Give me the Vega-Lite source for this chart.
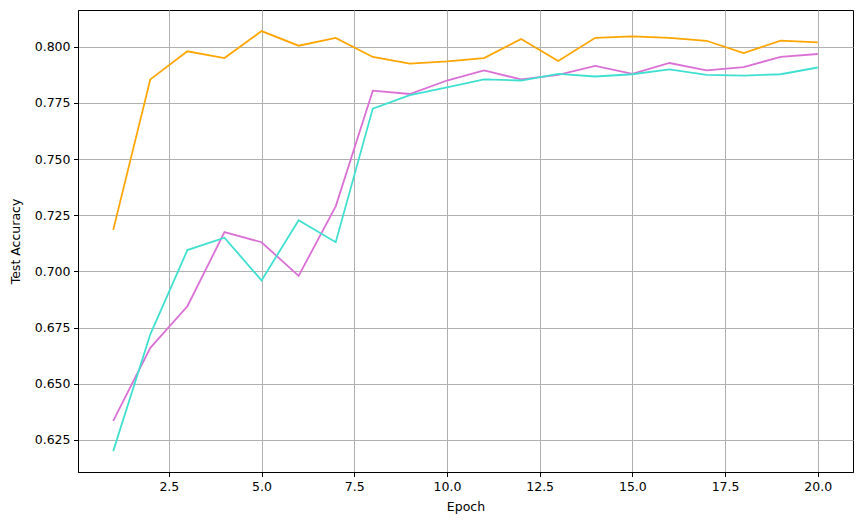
{
  "$schema": "https://vega.github.io/schema/vega-lite/v6.json",
  "autosize": "none",
  "width": 775,
  "height": 462,
  "padding": {"left": 78, "top": 10, "right": 10, "bottom": 53},
  "background": "white",
  "config": {
    "view": {"stroke": "black", "strokeWidth": 1},
    "axis": {
      "labelFont": "DejaVu Sans",
      "titleFont": "DejaVu Sans",
      "labelFontSize": 12.5,
      "titleFontSize": 12.5,
      "titleFontWeight": "normal",
      "labelColor": "black",
      "titleColor": "black",
      "domainColor": "black",
      "tickColor": "black",
      "tickSize": 4.5,
      "labelPadding": 3.5,
      "gridColor": "#b0b0b0",
      "gridWidth": 1,
      "gridOpacity": 1,
      "labelFlush": false,
      "labelOverlap": false
    }
  },
  "data": {
    "values": [
      {"epoch": 1, "series": "s1", "acc": 0.7185},
      {"epoch": 2, "series": "s1", "acc": 0.7855},
      {"epoch": 3, "series": "s1", "acc": 0.798},
      {"epoch": 4, "series": "s1", "acc": 0.795},
      {"epoch": 5, "series": "s1", "acc": 0.807},
      {"epoch": 6, "series": "s1", "acc": 0.8005},
      {"epoch": 7, "series": "s1", "acc": 0.804},
      {"epoch": 8, "series": "s1", "acc": 0.7955},
      {"epoch": 9, "series": "s1", "acc": 0.7925},
      {"epoch": 10, "series": "s1", "acc": 0.7935},
      {"epoch": 11, "series": "s1", "acc": 0.795},
      {"epoch": 12, "series": "s1", "acc": 0.8035},
      {"epoch": 13, "series": "s1", "acc": 0.7937},
      {"epoch": 14, "series": "s1", "acc": 0.804},
      {"epoch": 15, "series": "s1", "acc": 0.8047},
      {"epoch": 16, "series": "s1", "acc": 0.804},
      {"epoch": 17, "series": "s1", "acc": 0.8027},
      {"epoch": 18, "series": "s1", "acc": 0.7972},
      {"epoch": 19, "series": "s1", "acc": 0.8028},
      {"epoch": 20, "series": "s1", "acc": 0.802},
      {"epoch": 1, "series": "s2", "acc": 0.6335},
      {"epoch": 2, "series": "s2", "acc": 0.666},
      {"epoch": 3, "series": "s2", "acc": 0.6845},
      {"epoch": 4, "series": "s2", "acc": 0.7175},
      {"epoch": 5, "series": "s2", "acc": 0.713},
      {"epoch": 6, "series": "s2", "acc": 0.698},
      {"epoch": 7, "series": "s2", "acc": 0.729},
      {"epoch": 8, "series": "s2", "acc": 0.7805},
      {"epoch": 9, "series": "s2", "acc": 0.779},
      {"epoch": 10, "series": "s2", "acc": 0.785},
      {"epoch": 11, "series": "s2", "acc": 0.7895},
      {"epoch": 12, "series": "s2", "acc": 0.7855},
      {"epoch": 13, "series": "s2", "acc": 0.7875},
      {"epoch": 14, "series": "s2", "acc": 0.7915},
      {"epoch": 15, "series": "s2", "acc": 0.788},
      {"epoch": 16, "series": "s2", "acc": 0.7928},
      {"epoch": 17, "series": "s2", "acc": 0.7895},
      {"epoch": 18, "series": "s2", "acc": 0.791},
      {"epoch": 19, "series": "s2", "acc": 0.7955},
      {"epoch": 20, "series": "s2", "acc": 0.7968},
      {"epoch": 1, "series": "s3", "acc": 0.620},
      {"epoch": 2, "series": "s3", "acc": 0.672},
      {"epoch": 3, "series": "s3", "acc": 0.7095},
      {"epoch": 4, "series": "s3", "acc": 0.715},
      {"epoch": 5, "series": "s3", "acc": 0.696},
      {"epoch": 6, "series": "s3", "acc": 0.7228},
      {"epoch": 7, "series": "s3", "acc": 0.713},
      {"epoch": 8, "series": "s3", "acc": 0.7725},
      {"epoch": 9, "series": "s3", "acc": 0.7785},
      {"epoch": 10, "series": "s3", "acc": 0.782},
      {"epoch": 11, "series": "s3", "acc": 0.7855},
      {"epoch": 12, "series": "s3", "acc": 0.785},
      {"epoch": 13, "series": "s3", "acc": 0.788},
      {"epoch": 14, "series": "s3", "acc": 0.7868},
      {"epoch": 15, "series": "s3", "acc": 0.7878},
      {"epoch": 16, "series": "s3", "acc": 0.790},
      {"epoch": 17, "series": "s3", "acc": 0.7875},
      {"epoch": 18, "series": "s3", "acc": 0.7872},
      {"epoch": 19, "series": "s3", "acc": 0.7878},
      {"epoch": 20, "series": "s3", "acc": 0.7908}
    ]
  },
  "mark": {"type": "line", "strokeWidth": 1.8, "clip": true},
  "encoding": {
    "x": {
      "field": "epoch",
      "type": "quantitative",
      "scale": {"domain": [0.05, 20.95], "nice": false, "zero": false},
      "axis": {
        "title": "Epoch",
        "values": [2.5, 5, 7.5, 10, 12.5, 15, 17.5, 20],
        "format": ".1f",
        "titlePadding": 8
      }
    },
    "y": {
      "field": "acc",
      "type": "quantitative",
      "scale": {"domain": [0.6107, 0.8164], "nice": false, "zero": false},
      "axis": {
        "title": "Test Accuracy",
        "values": [0.625, 0.65, 0.675, 0.7, 0.725, 0.75, 0.775, 0.8],
        "format": ".3f",
        "titlePadding": 12
      }
    },
    "color": {
      "field": "series",
      "type": "nominal",
      "scale": {"domain": ["s1", "s2", "s3"], "range": ["#FFA500", "#DA70D6", "#40E0D0"]},
      "legend": null
    }
  }
}
